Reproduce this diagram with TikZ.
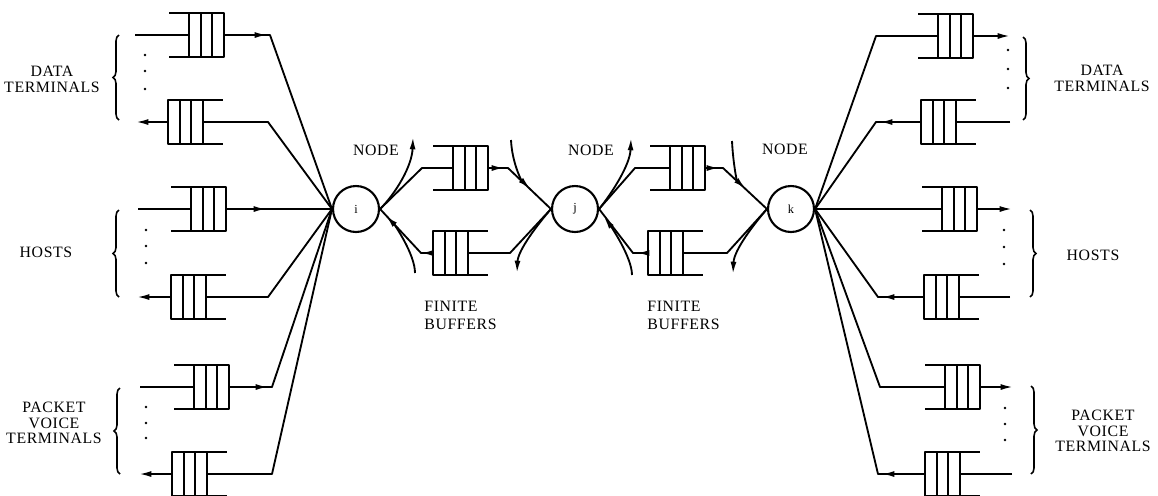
\documentclass[tikz,border=0pt]{standalone}
\usepackage{fontspec}
\setmainfont{Liberation Serif}
\newfontfamily\lblfont[LetterSpace=4.0]{Liberation Serif}
\usetikzlibrary{arrows.meta,decorations.pathreplacing,calc}

\tikzset{
  wire/.style={line width=1.05pt, line join=round},
  arr/.style={-{Latex[length=7pt,width=3.4pt]}},
  nodec/.style={circle, draw, line width=1.2pt, minimum size=0.92cm, inner sep=0pt,
                font=\fontsize{7}{7}\selectfont},
  lbl/.style={font=\lblfont\fontsize{9}{9}\selectfont, align=center, inner sep=0pt},
  lbll/.style={font=\lblfont\fontsize{9}{9}\selectfont, align=left, inner sep=0pt, anchor=west},
  grp/.style={decorate, decoration={brace, amplitude=0.12cm}, line width=0.9pt},
  % buffer open on the left, server cells on the right
  pics/qopenl/.style={code={
    \draw[wire] (0,-22) -- (20,-22) (0,22) -- (20,22);
    \draw[wire] (20,-22) rectangle (55,22);
    \draw[wire] (31.67,-22) -- (31.67,22) (43.33,-22) -- (43.33,22);
    \coordinate (-in) at (20,0);
    \coordinate (-out) at (55,0);
  }},
  % buffer open on the right, server cells on the left
  pics/qopenr/.style={code={
    \draw[wire] (35,-22) -- (55,-22) (35,22) -- (55,22);
    \draw[wire] (0,-22) rectangle (35,22);
    \draw[wire] (11.67,-22) -- (11.67,22) (23.33,-22) -- (23.33,22);
    \coordinate (-in) at (35,0);
    \coordinate (-out) at (0,0);
  }},
}
\newcommand{\vdotsat}[3]{%
  \fill (#1,#2) circle[radius=0.8pt];
  \fill (#1,#3) circle[radius=0.8pt];
}

\begin{document}
\begin{tikzpicture}[x=0.02cm,y=-0.02cm]
\useasboundingbox (0,0) rectangle (1158,495);

% switching nodes
\node[nodec] (i) at (356,209) {i};
\node[nodec] (j) at (575,209) {j};
\node[nodec] (k) at (791,209) {k};

\node[lbl] (ni) at (376,150) {NODE};
\node[lbl] (nj) at (591,150) {NODE};
\node[lbl] (nk) at (785,149) {NODE};

\node[lbll] (fb1) at (424,315.5) {FINITE\\[1pt]BUFFERS};
\node[lbll] (fb2) at (647,315.5) {FINITE\\[1pt]BUFFERS};

% ---------------- left side: terminals attached to node i
\pic (LD1) at (169,35) {qopenl};
\pic (LD2) at (168,122) {qopenr};
\pic (LH1) at (171,209) {qopenl};
\pic (LH2) at (171,297) {qopenr};
\pic (LV1) at (174,387) {qopenl};
\pic (LV2) at (172,474) {qopenr};

\coordinate (LD1src) at (135,35);  \coordinate (LD1tip) at (267,35);  \coordinate (LD1bend) at (270,35);
\coordinate (LD2bend) at (268,122); \coordinate (LD2dst) at (136,122);
\coordinate (LH1src) at (138,209); \coordinate (LH1tip) at (266,209);
\coordinate (LH2bend) at (268,297); \coordinate (LH2dst) at (137,297);
\coordinate (LV1src) at (140,387); \coordinate (LV1tip) at (268,387); \coordinate (LV1bend) at (272,387);
\coordinate (LV2bend) at (272,474); \coordinate (LV2dst) at (139,474);

\draw[wire] (LD1src) -- (LD1-in);
\draw[wire] (LD1-out) -- (LD1bend) -- (i.west);
\draw[wire,arr] (LD1-out) -- (LD1tip);
\draw[wire] (i.west) -- (LD2bend) -- (LD2-in);
\draw[wire,arr] (LD2-out) -- (LD2dst);

\draw[wire] (LH1src) -- (LH1-in);
\draw[wire] (LH1-out) -- (i.west);
\draw[wire,arr] (LH1-out) -- (LH1tip);
\draw[wire] (i.west) -- (LH2bend) -- (LH2-in);
\draw[wire,arr] (LH2-out) -- (LH2dst);

\draw[wire] (LV1src) -- (LV1-in);
\draw[wire] (LV1-out) -- (LV1bend) -- (i.west);
\draw[wire,arr] (LV1-out) -- (LV1tip);
\draw[wire] (i.west) -- (LV2bend) -- (LV2-in);
\draw[wire,arr] (LV2-out) -- (LV2dst);

\draw[grp] (119,120) -- (119,35);
\draw[grp] (119,297) -- (119,210);
\draw[grp] (120,474) -- (120,388);
\vdotsat{145}{55}{89}  \fill (145,71) circle[radius=0.8pt];
\vdotsat{146}{230}{263} \fill (146,246) circle[radius=0.8pt];
\vdotsat{146}{407}{438} \fill (146,423) circle[radius=0.8pt];

\node[lbl] (tl1) at (52,79.5) {DATA\\TERMINALS};
\node[lbl] (tl2) at (46,252) {HOSTS};
\node[lbl] (tl3) at (54,423) {PACKET\\VOICE\\TERMINALS};

% ---------------- link i -- j
\pic (M1) at (433,168) {qopenl};
\pic (M2) at (433,253) {qopenr};
\coordinate (M1bendA) at (422,168); \coordinate (M1tip) at (504,168); \coordinate (M1bendB) at (508,168);
\coordinate (M2bendA) at (510,253); \coordinate (M2tip) at (421,253);
\draw[wire] (i.east) -- (M1bendA) -- (M1-in);
\draw[wire] (M1-out) -- (M1bendB) -- (j.west);
\draw[wire,arr] (M1-out) -- (M1tip);
\draw[wire] (j.west) -- (M2bendA) -- (M2-in);
\draw[wire] (M2-out) -- (M2tip) -- (i.east);
\draw[wire,arr] (M2-out) -- (M2tip);

% flow curves at node i (east side)
\coordinate (ci1) at (413,137);
\coordinate (ci2) at (415,273);
\coordinate (ci3) at (386,216);
\draw[wire,arr] (i.east) .. controls (396,193) and (412,166) .. (ci1);
\draw[wire,arr] (ci2) .. controls (415,254) and (394,224) .. (ci3);

% flow curves at node j (west side)
\coordinate (cj1) at (511,140);
\coordinate (cj2) at (530,188.5);
\coordinate (cj3) at (517,273);
\draw[wire,arr] (cj1) .. controls (512,162) and (521,180) .. (cj2);
\draw[wire,arr] (j.west) .. controls (538,224) and (518,250) .. (cj3);

% ---------------- link j -- k
\pic (M3) at (650,168) {qopenl};
\pic (M4) at (648,253) {qopenr};
\coordinate (M3bendA) at (635,168); \coordinate (M3tip) at (719,168); \coordinate (M3bendB) at (723,168);
\coordinate (M4bendA) at (727,253); \coordinate (M4tip) at (637,253); \coordinate (M4bendB) at (633,253);
\draw[wire] (j.east) -- (M3bendA) -- (M3-in);
\draw[wire] (M3-out) -- (M3bendB) -- (k.west);
\draw[wire,arr] (M3-out) -- (M3tip);
\draw[wire] (k.west) -- (M4bendA) -- (M4-in);
\draw[wire] (M4-out) -- (M4bendB) -- (j.east);
\draw[wire,arr] (M4-out) -- (M4tip);

% flow curves at node j (east side)
\coordinate (cj4) at (631,138);
\coordinate (cj5) at (632,275);
\coordinate (cj6) at (604,217);
\draw[wire,arr] (j.east) .. controls (612,193) and (630,165) .. (cj4);
\draw[wire,arr] (cj5) .. controls (632,257) and (610,225) .. (cj6);

% flow curves at node k (west side)
\coordinate (ck1) at (732,141);
\coordinate (ck2) at (745.5,188.5);
\coordinate (ck3) at (733,274);
\draw[wire,arr] (ck1) .. controls (733,162) and (736.6,180.5) .. (ck2);
\draw[wire,arr] (k.west) .. controls (754,224) and (734,250) .. (ck3);

% ---------------- right side: terminals attached to node k
\pic (RD1) at (918,36) {qopenl};
\pic (RD2) at (921,122) {qopenr};
\pic (RH1) at (922,209) {qopenl};
\pic (RH2) at (924,297) {qopenr};
\pic (RV1) at (925,387) {qopenl};
\pic (RV2) at (925,474) {qopenr};

\coordinate (RD1bend) at (876,36);  \coordinate (RD1dst) at (1010,36);
\coordinate (RD2src) at (1010,122); \coordinate (RD2tip) at (880,122); \coordinate (RD2bend) at (876,122);
\coordinate (RH1dst) at (1012,209);
\coordinate (RH2src) at (1010,297); \coordinate (RH2tip) at (882,297); \coordinate (RH2bend) at (878,297);
\coordinate (RV1bend) at (880,387); \coordinate (RV1dst) at (1013,387);
\coordinate (RV2src) at (1012,474); \coordinate (RV2tip) at (882,474); \coordinate (RV2bend) at (878,474);

\draw[wire] (k.east) -- (RD1bend) -- (RD1-in);
\draw[wire,arr] (RD1-out) -- (RD1dst);
\draw[wire] (RD2src) -- (RD2-in);
\draw[wire] (RD2-out) -- (RD2bend) -- (k.east);
\draw[wire,arr] (RD2-out) -- (RD2tip);

\draw[wire] (k.east) -- (RH1-in);
\draw[wire,arr] (RH1-out) -- (RH1dst);
\draw[wire] (RH2src) -- (RH2-in);
\draw[wire] (RH2-out) -- (RH2bend) -- (k.east);
\draw[wire,arr] (RH2-out) -- (RH2tip);

\draw[wire] (k.east) -- (RV1bend) -- (RV1-in);
\draw[wire,arr] (RV1-out) -- (RV1dst);
\draw[wire] (RV2src) -- (RV2-in);
\draw[wire] (RV2-out) -- (RV2bend) -- (k.east);
\draw[wire,arr] (RV2-out) -- (RV2tip);

\draw[grp] (1023,37) -- (1023,120);
\draw[grp] (1030,210) -- (1030,297);
\draw[grp] (1031,386) -- (1031,474);
\vdotsat{1008}{50}{88}  \fill (1008,69) circle[radius=0.8pt];
\vdotsat{1004}{230}{264} \fill (1004,247) circle[radius=0.8pt];
\vdotsat{1005}{408}{440} \fill (1005,424) circle[radius=0.8pt];

\node[lbl] (tr1) at (1102,78.5) {DATA\\TERMINALS};
\node[lbl] (tr2) at (1093,255) {HOSTS};
\node[lbl] (tr3) at (1103,431) {PACKET\\VOICE\\TERMINALS};
\end{tikzpicture}
\end{document}
